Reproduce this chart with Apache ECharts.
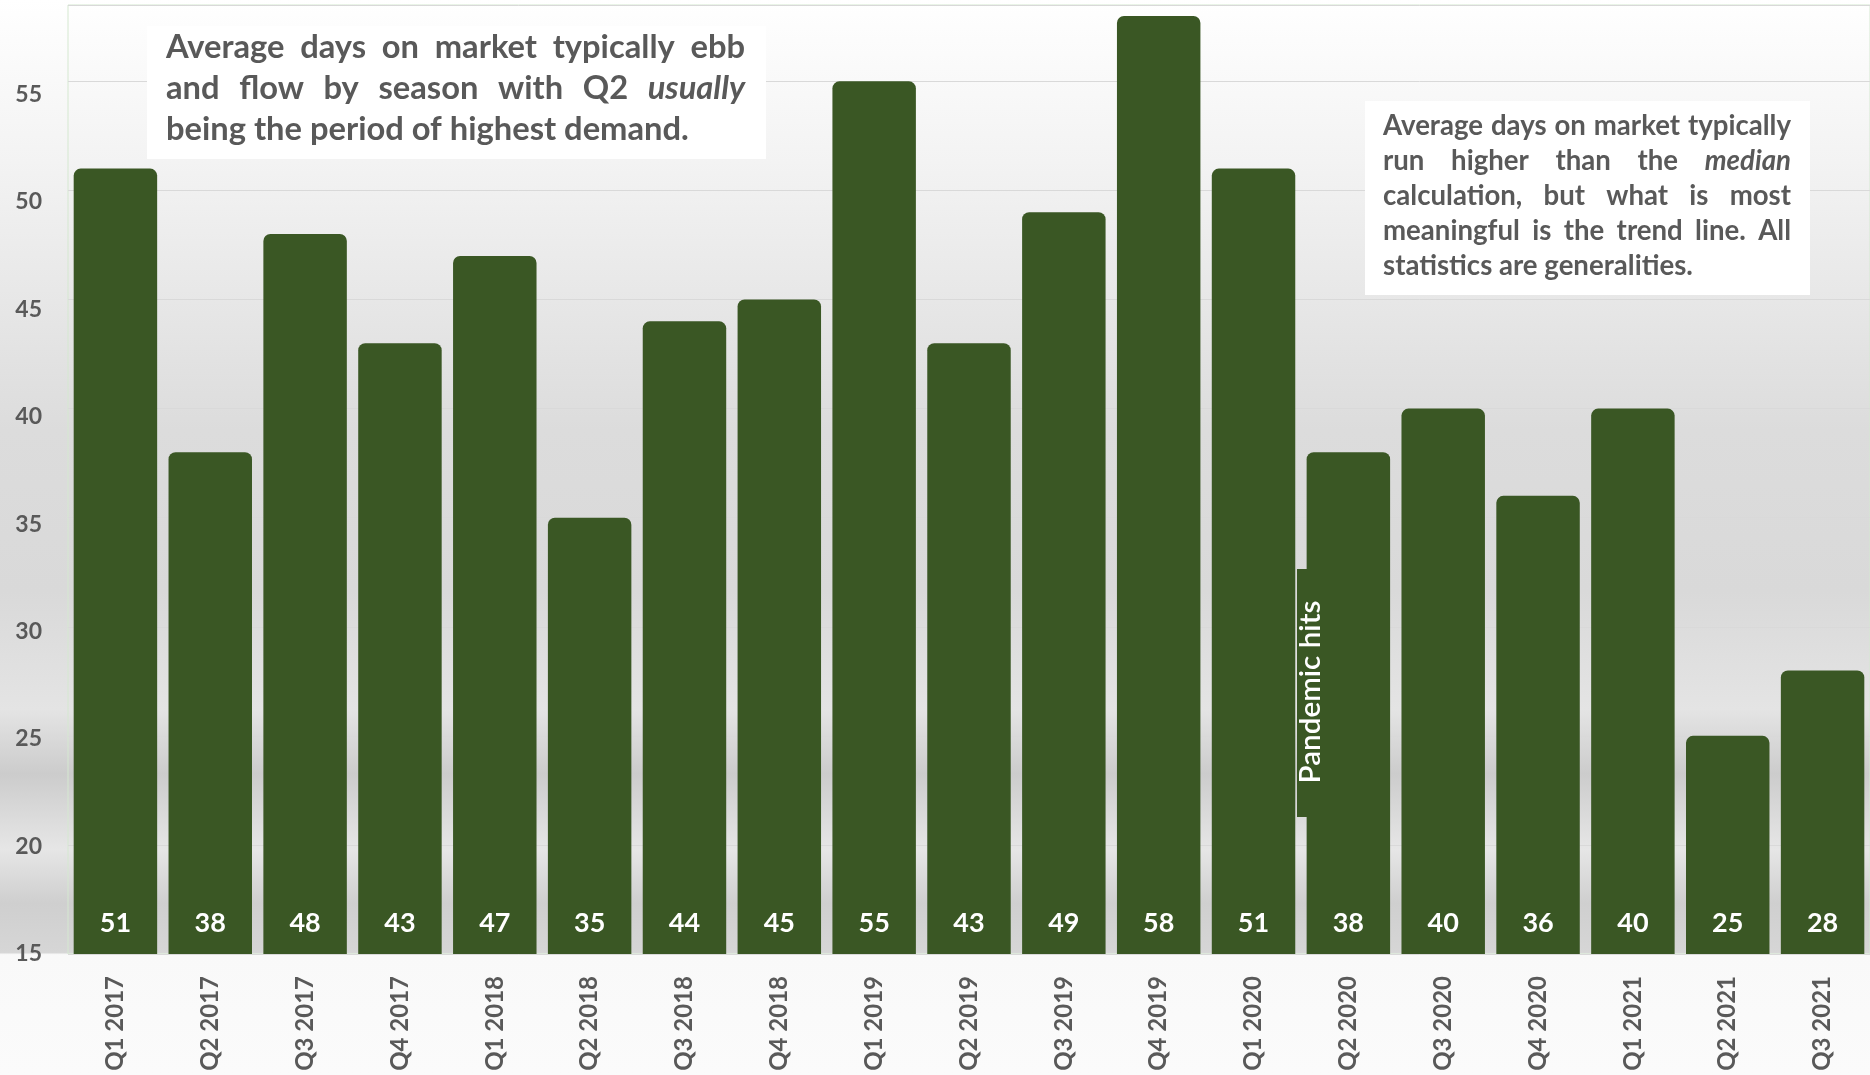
<!DOCTYPE html>
<html><head><meta charset="utf-8">
<script src="https://cdn.jsdelivr.net/npm/echarts@6/dist/echarts.min.js"></script>
<style>html,body{margin:0;padding:0;background:#fafafa}#c{width:1870px;height:1075px}</style>
</head><body><div id="c"></div>
<script>
const categories = ['Q1 2017','Q2 2017','Q3 2017','Q4 2017','Q1 2018','Q2 2018','Q3 2018','Q4 2018','Q1 2019','Q2 2019','Q3 2019','Q4 2019','Q1 2020','Q2 2020','Q3 2020','Q4 2020','Q1 2021','Q2 2021','Q3 2021'];
const values = [51,38,48,43,47,35,44,45,55,43,49,58,51,38,40,36,40,25,28];
const yTicks = [15,20,25,30,35,40,45,50,55];
const note1 = [
  [['Average'],['days'],['on'],['market'],['typically'],['ebb']],
  [['and'],['flow'],['by'],['season'],['with'],['Q2'],['usually',1]],
  [['being the period of highest demand.']]
];
const note2 = [
  [['Average'],['days'],['on'],['market'],['typically']],
  [['run'],['higher'],['than'],['the'],['median',1]],
  [['calculation,'],['but'],['what'],['is'],['most']],
  [['meaningful'],['is'],['the'],['trend'],['line.'],['All']],
  [['statistics are generalities.']]
];
const pandemicLabel = 'Pandemic hits';

const FONT = 'Lato';
const TXT = '#595959';
const GREEN = '#3a5724';
const mc = document.createElement('canvas').getContext('2d');
function measure(t, size, italic, weight){ mc.font = (italic?'italic ':'') + (weight||'bold') + ' ' + size + 'px ' + FONT; return mc.measureText(t).width; }
function fitSize(text, target, weight){ return 20 * target / measure(text, 20, false, weight); }
function naturalWidth(ln, size){ return ln.reduce((a,w)=>a+measure(w[0], size, w[1]),0) + (ln.length-1)*measure(' ', size); }
function justify(lines, x, y0, width, lh, size){
  const els = [];
  lines.forEach((ln, i) => {
    const y = y0 + i*lh;
    const last = i === lines.length - 1;
    const ws = ln.map(w => measure(w[0], size, w[1]));
    const total = ws.reduce((a,b)=>a+b,0);
    const gap = (!last && ln.length > 1) ? (width - total)/(ln.length-1) : measure(' ', size);
    let cx = x;
    ln.forEach((w, j) => {
      els.push({type:'text', z:100, style:{x:cx, y:y, text:w[0], fill:TXT, fontFamily:FONT, fontWeight:'bold', fontStyle:w[1]?'italic':'normal', fontSize:size, verticalAlign:'middle', align:'left'}});
      cx += ws[j] + gap;
    });
  });
  return els;
}
function fitNote(lines, target, width){
  let s = fitSize(lines[lines.length-1][0][0], target);
  while (lines.some(ln => naturalWidth(ln, s) > width) && s > 10) s -= 0.5;
  return s;
}
const s1 = fitNote(note1, 523, 579);
const s2 = fitNote(note2, 310, 408);
const sp = fitSize(pandemicLabel, 183, '600');

// per-label vertical nudge of the y tick labels (as in the reference)
const rich = {};
yTicks.forEach(v => { const off = Math.round(13 * (v - 15) / 40); rich['t' + v] = {padding:[off*2,0,0,0], color:TXT, fontFamily:FONT, fontWeight:'bold', fontSize:23}; });

const chart = echarts.init(document.getElementById('c'));
const graphics = [
  {type:'rect', z:90, shape:{x:147,y:26,width:619,height:133}, style:{fill:'#ffffff'}},
  {type:'rect', z:90, shape:{x:1365,y:101,width:445,height:194}, style:{fill:'#ffffff'}},
  ...justify(note1, 166, 47, 579, 41, s1),
  ...justify(note2, 1383, 126, 408, 35, s2),
  {type:'rect', z:90, shape:{x:1297,y:569,width:25,height:248}, style:{fill:GREEN}},
  {type:'text', z:100, x:1310, y:692, rotation:Math.PI/2, style:{text:pandemicLabel, fill:'#ffffff', fontFamily:FONT, fontWeight:'600', fontSize:sp, align:'center', verticalAlign:'middle'}}
];

chart.setOption({
  animation:false,
  backgroundColor:{type:'linear',x:0,y:0,x2:0,y2:1,colorStops:[
    {offset:0,color:'#ffffff'},{offset:0.15,color:'#f3f3f3'},{offset:0.4,color:'#dcdcdc'},
    {offset:0.55,color:'#d9d9d9'},{offset:0.66,color:'#e4e4e4'},{offset:0.72,color:'#cccccc'},
    {offset:0.79,color:'#e6e6e6'},{offset:0.84,color:'#cfcfcf'},
    {offset:0.886,color:'#d6d6d6'},{offset:0.888,color:'#f9f9f9'},{offset:1,color:'#fbfbfb'}]},
  grid:{left:68, right:-6, top:5, bottom:121, show:true, borderColor:'#d5e8d0', borderWidth:1, backgroundColor:'transparent'},
  xAxis:{type:'category', data:categories,
    axisLine:{show:false}, axisTick:{show:false},
    axisLabel:{rotate:90, margin:22, color:TXT, fontFamily:FONT, fontWeight:'bold', fontSize:24, interval:0}},
  yAxis:{type:'value', min:15, max:58.5, interval:5,
    axisLine:{show:false}, axisTick:{show:false},
    splitLine:{lineStyle:{color:'#d9d9d9', width:1}},
    axisLabel:{margin:26, color:TXT, fontFamily:FONT, fontWeight:'bold', fontSize:23, rich:rich,
      formatter:v => yTicks.indexOf(v) >= 0 ? '{t' + v + '|' + v + '}' : ''}},
  series:[{type:'bar', data:values, barCategoryGap:'12%',
    itemStyle:{color:GREEN, borderRadius:[7,7,0,0]},
    label:{show:true, position:'insideBottom', distance:17, color:'#ffffff', fontFamily:FONT, fontWeight:'bold', fontSize:27}}],
  graphic:graphics
});
</script></body></html>
